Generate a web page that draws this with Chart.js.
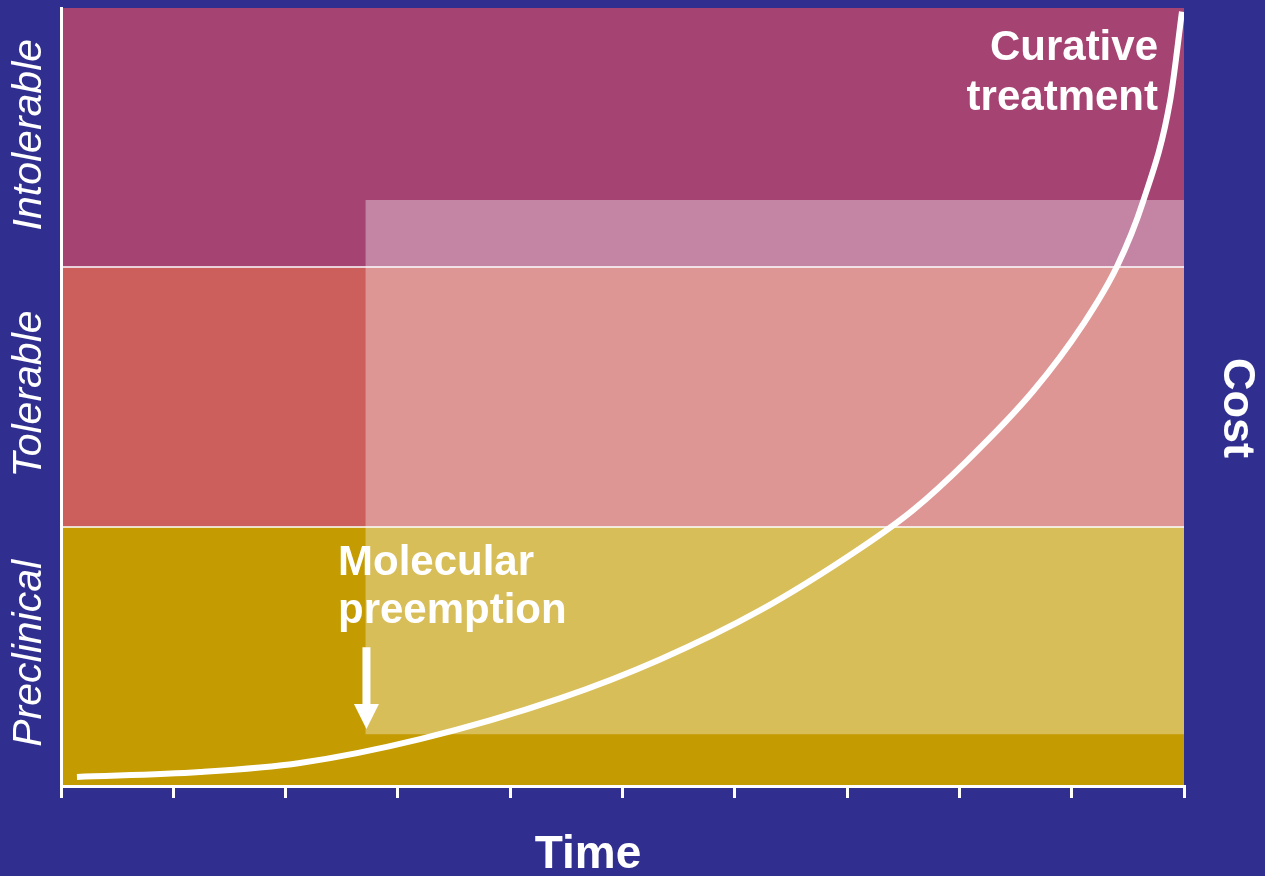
<!DOCTYPE html>
<html>
<head>
<meta charset="utf-8">
<script src="https://cdn.jsdelivr.net/npm/chart.js@4.4.1/dist/chart.umd.min.js"></script>
<style>
  html, body { margin: 0; padding: 0; background: #302f8f; }
  #wrap { width: 1265px; height: 876px; position: relative; }
</style>
</head>
<body>
<div id="wrap"><canvas id="costChart"></canvas></div>
<script>
// 帯（コスト区分）
const bandNames = ['Preclinical', 'Tolerable', 'Intolerable'];
const bandLower = [0, 1, 2];
const bandUpper = [1, 2, 3];
const bandColors = ['#c49b00', '#cc5f5c', '#a54372'];

// 時間軸
const timeMin = 0;
const timeMax = 10;

// 予防的介入の領域（半透明の白い矩形）
const preemptStart = 2.71;
const preemptEnd = 10;
const preemptLow = 0.2;
const preemptHigh = 2.26;

// コスト曲線
const curveX = [0.142, 1.238, 2.128, 3.197, 4.443, 5.334, 6.224, 7.115, 7.587, 8.068, 8.655, 9.101, 9.403, 9.635, 9.875, 9.982];
const curveY = [0.035, 0.054, 0.089, 0.181, 0.338, 0.488, 0.677, 0.916, 1.064, 1.254, 1.522, 1.780, 2.003, 2.253, 2.639, 2.986];

// 矢印（Molecular preemption）
const arrowX = 2.72;
const arrowFrom = 0.535;
const arrowTo = 0.22;

const FONT = '"Liberation Sans", Arial, sans-serif';

// データセット作成
const datasets = [];

// 曲線
datasets.push({
  data: curveX.map((x, i) => ({ x: x, y: curveY[i] })),
  borderColor: '#ffffff',
  borderWidth: 6,
  pointRadius: 0,
  fill: false,
  cubicInterpolationMode: 'monotone',
  order: 0
});

// 半透明の矩形
datasets.push({
  data: [{ x: preemptStart, y: preemptHigh }, { x: preemptEnd, y: preemptHigh }],
  borderWidth: 0,
  pointRadius: 0,
  backgroundColor: 'rgba(255,255,255,0.35)',
  fill: { value: preemptLow },
  order: 1
});

// 帯
bandNames.forEach((name, i) => {
  datasets.push({
    label: name,
    data: [{ x: timeMin, y: bandUpper[i] }, { x: timeMax, y: bandUpper[i] }],
    borderWidth: 0,
    pointRadius: 0,
    backgroundColor: bandColors[i],
    fill: { value: bandLower[i] },
    order: 2
  });
});

// 注釈テキストと矢印
const annotationPlugin = {
  id: 'annotations',
  afterDraw(chart) {
    const { ctx, scales: { x, y } } = chart;
    ctx.save();
    ctx.fillStyle = '#ffffff';

    // 帯ラベル（左側、縦書き）
    ctx.font = 'italic 41px ' + FONT;
    ctx.textAlign = 'center';
    ctx.textBaseline = 'middle';
    bandNames.forEach((name, i) => {
      const cy = y.getPixelForValue((bandLower[i] + bandUpper[i]) / 2);
      ctx.save();
      ctx.translate(30, cy - 3);
      ctx.rotate(-Math.PI / 2);
      ctx.fillText(name, 0, 0);
      ctx.restore();
    });

    // Cost（右側）
    ctx.font = 'bold 45px ' + FONT;
    ctx.save();
    ctx.translate(1236, 408);
    ctx.rotate(Math.PI / 2);
    ctx.fillText('Cost', 0, 0);
    ctx.restore();

    // Time（下）
    ctx.font = 'bold 46px ' + FONT;
    ctx.textBaseline = 'alphabetic';
    ctx.fillText('Time', 588, 868);

    // Curative treatment
    ctx.font = 'bold 42px ' + FONT;
    ctx.textAlign = 'right';
    ctx.fillText('Curative', 1158, 60);
    ctx.fillText('treatment', 1158, 110);

    // Molecular preemption
    ctx.textAlign = 'left';
    ctx.fillText('Molecular', 338, 575);
    ctx.fillText('preemption', 338, 623);

    // 矢印
    const ax = x.getPixelForValue(arrowX);
    const ay1 = y.getPixelForValue(arrowFrom);
    const ay2 = y.getPixelForValue(arrowTo);
    const head = 25;
    ctx.fillRect(ax - 4, ay1, 8, ay2 - ay1 - head + 1);
    ctx.beginPath();
    ctx.moveTo(ax - 12.5, ay2 - head);
    ctx.lineTo(ax + 12.5, ay2 - head);
    ctx.lineTo(ax, ay2);
    ctx.closePath();
    ctx.fill();

    ctx.restore();
  }
};

const bgPlugin = {
  id: 'bg',
  beforeDraw(chart) {
    const { ctx, width, height } = chart;
    ctx.save();
    ctx.fillStyle = '#302f8f';
    ctx.fillRect(0, 0, width, height);
    ctx.restore();
  }
};

new Chart(document.getElementById('costChart'), {
  type: 'line',
  data: { datasets: datasets },
  options: {
    responsive: true,
    maintainAspectRatio: false,
    animation: false,
    layout: { padding: { left: 0, top: 8, right: 81, bottom: 0 } },
    plugins: {
      legend: { display: false },
      tooltip: { enabled: false },
      filler: { propagate: false }
    },
    scales: {
      x: {
        type: 'linear',
        min: timeMin,
        max: timeMax,
        ticks: { stepSize: 1, display: false },
        grid: {
          drawOnChartArea: false,
          drawTicks: true,
          tickLength: 12,
          color: '#ffffff',
          lineWidth: 3
        },
        border: { color: '#ffffff', width: 3, z: 2 },
        afterFit: scale => { scale.height = 90; }
      },
      y: {
        min: 0,
        max: 3,
        ticks: { stepSize: 1, display: false },
        grid: {
          drawTicks: false,
          lineWidth: 2,
          z: 1,
          color: c => (c.tick && c.tick.value > 0 && c.tick.value < 3) ? 'rgba(255,255,255,0.75)' : 'rgba(0,0,0,0)'
        },
        border: { color: '#ffffff', width: 3, z: 2 },
        afterFit: scale => { scale.width = 61; }
      }
    }
  },
  plugins: [bgPlugin, annotationPlugin]
});
</script>
</body>
</html>
